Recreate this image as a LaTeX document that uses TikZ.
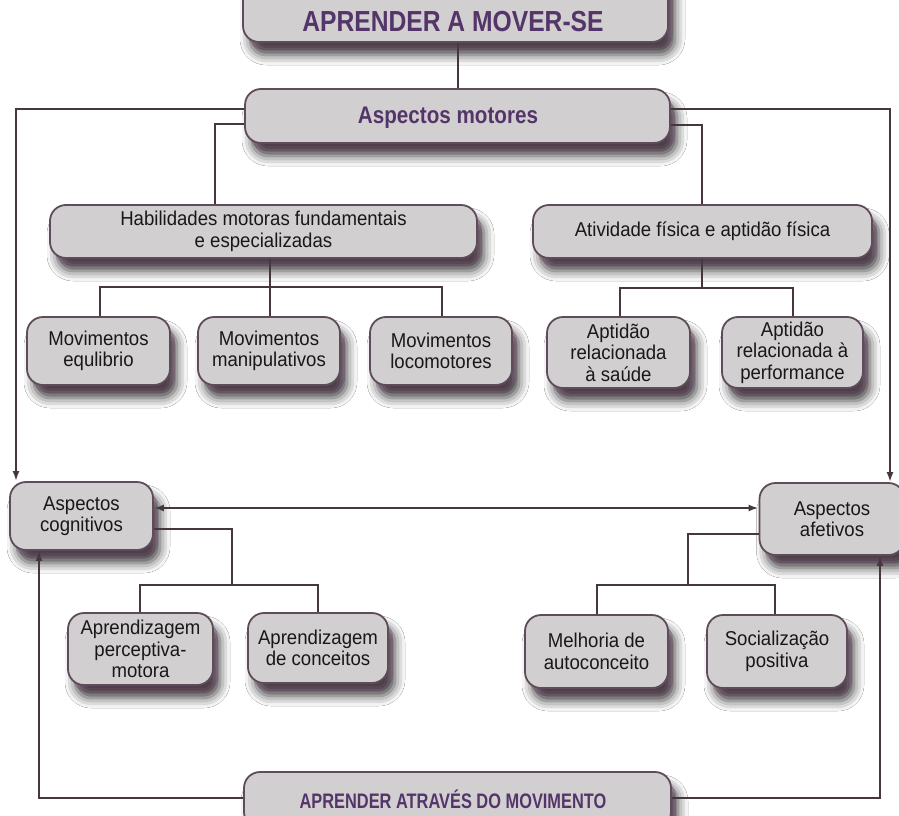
\documentclass[tikz,border=0pt]{standalone}
\usepackage{fontspec}
\setmainfont[FakeStretch=0.93]{Liberation Sans}
\newfontfamily\titlefont[FakeStretch=0.85]{Liberation Sans Bold}
\newfontfamily\motfont[FakeStretch=0.86]{Liberation Sans Bold}
\newfontfamily\botfont[FakeStretch=0.78]{Liberation Sans Bold}
\usetikzlibrary{shadows.blur,arrows.meta}
\definecolor{boxfill}{HTML}{D2CFD0}
\definecolor{boxline}{HTML}{5E4C5A}
\definecolor{linec}{HTML}{46363F}
\definecolor{titlec}{HTML}{54356A}
\definecolor{textc}{HTML}{1A1619}
\definecolor{shadc}{HTML}{6A3E62}
\tikzset{
  box/.style={draw=boxline, line width=1.8pt, fill=boxfill, rounded corners=16pt,
    inner sep=0pt, align=center, text=textc,
    font=\fontsize{20}{21.5}\selectfont,
    blur shadow={shadow xshift=7pt, shadow yshift=-13pt, shadow blur radius=10pt, shadow opacity=75},
    preaction={fill=shadc, fill opacity=0.35, draw=none, transform canvas={shift={(5pt,-8pt)}}}},
  conn/.style={draw=linec, line width=2pt},
  arr/.style={conn, -{Latex[length=10pt,width=7pt]}},
  darr/.style={conn, {Latex[length=10pt,width=7pt]}-{Latex[length=10pt,width=7pt]}},
  lbl/.style={inner sep=0pt, text=titlec}
}
\begin{document}
\begin{tikzpicture}[x=1pt,y=-1pt]
\clip (0,0) rectangle (899,816);
\fill[white] (0,0) rectangle (899,816);
% boxes
\node[box, minimum width=425pt, minimum height=72pt] (top) at (455.5,6) {};
\node[lbl, font=\fontsize{29}{29}\titlefont] (toptext) at (453,22) {APRENDER A MOVER-SE};
\node[box, minimum width=425pt, minimum height=54pt] (mot) at (457.5,116) {};
\node[lbl, font=\fontsize{24}{24}\motfont] (mottext) at (448,118) {Aspectos motores};
\node[box, minimum width=427pt, minimum height=53pt] (hab) at (263.5,231.5) {Habilidades motoras fundamentais\\e especializadas};
\node[box, minimum width=339pt, minimum height=53pt] (ativ) at (702.5,231.5) {Atividade física e aptidão física};
\node[box, minimum width=143pt, minimum height=68pt] (equ) at (98.5,351) {Movimentos\\equlibrio};
\node[box, minimum width=142pt, minimum height=68pt] (man) at (269,351) {Movimentos\\manipulativos};
\node[box, minimum width=142pt, minimum height=68pt] (loc) at (441,351) {Movimentos\\locomotores};
\node[box, minimum width=143pt, minimum height=71pt] (sau) at (618.5,352.5) {Aptidão\\relacionada\\à saúde};
\node[box, minimum width=141pt, minimum height=71pt] (per) at (792.5,352.5) {Aptidão\\relacionada à\\performance};
\node[box, minimum width=143pt, minimum height=68pt] (cog) at (81.5,516) {Aspectos\\cognitivos};
\node[box, minimum width=145pt, minimum height=72pt] (afe) at (832,519) {Aspectos\\afetivos};
\node[box, minimum width=145pt, minimum height=72pt] (perc) at (140.5,649) {Aprendizagem\\perceptiva-\\motora};
\node[box, minimum width=140pt, minimum height=70pt] (conc) at (318,648) {Aprendizagem\\de conceitos};
\node[box, minimum width=143pt, minimum height=73pt] (mel) at (596.5,651.5) {Melhoria de\\autoconceito};
\node[box, minimum width=140pt, minimum height=73pt] (soc) at (777,651.5) {Socialização\\positiva};
\node[box, minimum width=427pt, minimum height=56pt] (bot) at (457.5,800) {};
\node[lbl, font=\fontsize{21}{21}\botfont] (bottext) at (453,799) {APRENDER ATRAVÉS DO MOVIMENTO};
% connectors
\draw[conn] (mot.north) -- (mot.north |- top.south);
\draw[arr] (mot.west |- 0,109) -| (cog.north -| 16,0);
\draw[arr] (mot.east |- 0,109) -| (afe.north -| 890,0);
\draw[conn] (mot.west |- 0,124) -| (hab.north -| 215,0);
\draw[conn] (mot.east |- 0,125) -| (ativ.north -| 702,0);
% habilidades
\coordinate (hj) at (270,287);
\draw[conn] (hab.south -| hj) -- (hj);
\draw[conn] (equ.north -| 100,0) |- (hj) -| (loc.north -| 442,0);
\draw[conn] (hj) -- (man.north -| hj);
% atividade
\coordinate (aj) at (702,288);
\draw[conn] (ativ.south -| aj) -- (aj);
\draw[conn] (sau.north -| 620,0) |- (aj) -| (per.north -| 793,0);
% cognitivos / afetivos
\draw[darr] (cog.east |- 0,508) -- (afe.west |- 0,508);
\coordinate (cj) at (232,585);
\draw[conn] (cog.east |- 0,529) -| (cj);
\draw[conn] (perc.north -| 140,0) |- (cj) -| (conc.north -| 318,0);
\coordinate (fj) at (688,585);
\draw[conn] (afe.west |- 0,534) -| (fj);
\draw[conn] (mel.north -| 597,0) |- (fj) -| (soc.north -| 775,0);
% bottom loops
\draw[arr] (bot.west |- 0,798) -| (cog.south -| 39,0);
\draw[arr] (bot.east |- 0,798) -| (afe.south -| 880,0);
\end{tikzpicture}
\end{document}
